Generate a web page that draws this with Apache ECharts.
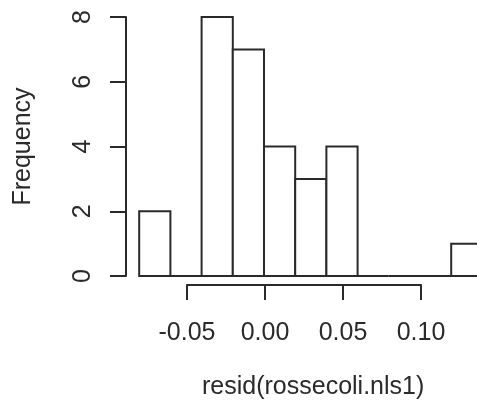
<!DOCTYPE html>
<html>
<head>
<meta charset="utf-8">
<script src="https://cdn.jsdelivr.net/npm/echarts@6/dist/echarts.min.js"></script>
<style>
html,body{margin:0;padding:0;background:#fff;}
#c{width:477px;height:409px;}
</style>
</head>
<body>
<div id="c"></div>
<script>
const binStarts = [-0.08, -0.06, -0.04, -0.02, 0.00, 0.02, 0.04, 0.06, 0.08, 0.10, 0.12];
const binWidth = 0.02;
const counts = [2, 0, 8, 7, 4, 3, 4, 0, 0, 0, 1];
const xTickValues = [-0.05, 0.00, 0.05, 0.10];
const yTickValues = [0, 2, 4, 6, 8];
const xTitle = 'resid(rossecoli.nls1)';
const yTitle = 'Frequency';

const FONT = '"Liberation Sans", Arial, sans-serif';
const INK = '#2a2a2a';

const histData = binStarts.map((s, i) => [s, +(s + binWidth).toFixed(4), counts[i]]);

const chart = echarts.init(document.getElementById('c'), null, {renderer: 'canvas'});
chart.setOption({
  animation: false,
  backgroundColor: '#fff',
  title: {
    text: xTitle,
    left: 197, top: 370,
    textStyle: {fontFamily: FONT, fontSize: 25, fontWeight: 'normal', color: INK}
  },
  grid: [
    {left: 126, right: 0, top: 17, bottom: 133},
    {left: 187, right: 56, top: 17, bottom: 124}
  ],
  xAxis: [
    {gridIndex: 0, type: 'value', min: -0.08846, max: 0.13654, show: false},
    {gridIndex: 1, type: 'value', min: -0.05, max: 0.10, interval: 0.05,
     axisLine: {show: true, onZero: false, lineStyle: {color: INK, width: 2}},
     axisTick: {show: true, length: 15, lineStyle: {color: INK, width: 2}},
     splitLine: {show: false},
     axisLabel: {fontFamily: FONT, fontSize: 25, color: INK, margin: 36,
       formatter: v => (Math.round(v * 100) / 100).toFixed(2)}
    }
  ],
  yAxis: [
    {gridIndex: 0, type: 'value', min: 0, max: 8, interval: 2,
     name: yTitle, nameLocation: 'middle', nameGap: 90, nameRotate: 90,
     nameTextStyle: {fontFamily: FONT, fontSize: 25, color: INK},
     axisLine: {show: true, onZero: false, lineStyle: {color: INK, width: 2}},
     axisTick: {show: true, length: 16, lineStyle: {color: INK, width: 2}},
     splitLine: {show: false},
     axisLabel: {fontFamily: FONT, fontSize: 25, color: INK, rotate: 90, margin: 30,
       formatter: v => String(v)}
    },
    {gridIndex: 1, type: 'value', min: 0, max: 1, show: false}
  ],
  series: [{
    type: 'custom',
    xAxisIndex: 0, yAxisIndex: 0,
    clip: false,
    encode: {x: [0, 1], y: 2},
    data: histData,
    renderItem: function (params, api) {
      const x0 = api.value(0), x1 = api.value(1), c = api.value(2);
      const p1 = api.coord([x0, c]);
      const p2 = api.coord([x1, 0]);
      const style = {fill: '#fff', stroke: INK, lineWidth: 2};
      if (c === 0) {
        return {type: 'line', shape: {x1: p1[0], y1: p2[1], x2: p2[0], y2: p2[1]}, style: {stroke: INK, lineWidth: 2}};
      }
      return {type: 'rect', shape: {x: p1[0], y: p1[1], width: p2[0] - p1[0], height: p2[1] - p1[1]}, style: style};
    }
  }]
});
</script>
</body>
</html>
